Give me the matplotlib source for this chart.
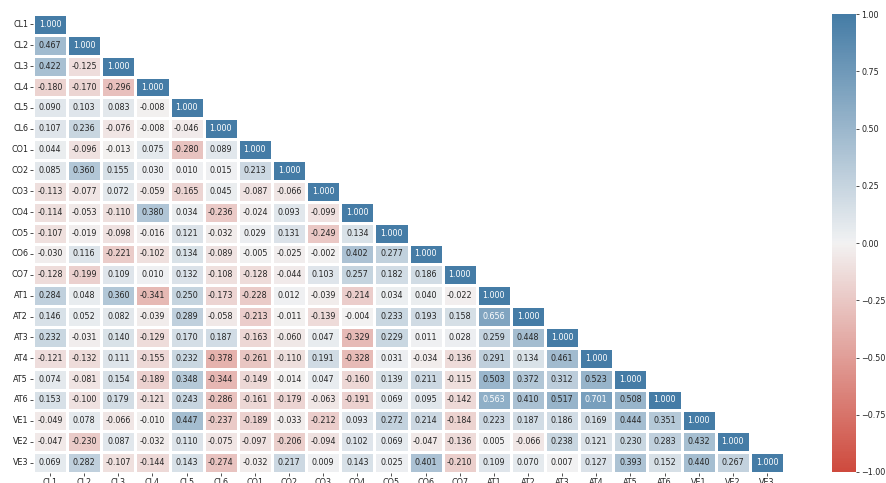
import numpy as np
import pandas as pd
import matplotlib
matplotlib.use("Agg")
import matplotlib.pyplot as plt
import seaborn as sns

labels = ["CL1", "CL2", "CL3", "CL4", "CL5", "CL6",
          "CO1", "CO2", "CO3", "CO4", "CO5", "CO6", "CO7",
          "AT1", "AT2", "AT3", "AT4", "AT5", "AT6",
          "VE1", "VE2", "VE3"]

# Lower-triangle correlation rows (including the diagonal)
row_CL1 = [1.000]
row_CL2 = [0.467, 1.000]
row_CL3 = [0.422, -0.125, 1.000]
row_CL4 = [-0.180, -0.170, -0.296, 1.000]
row_CL5 = [0.090, 0.103, 0.083, -0.008, 1.000]
row_CL6 = [0.107, 0.236, -0.076, -0.008, -0.046, 1.000]
row_CO1 = [0.044, -0.096, -0.013, 0.075, -0.280, 0.089, 1.000]
row_CO2 = [0.085, 0.360, 0.155, 0.030, 0.010, 0.015, 0.213, 1.000]
row_CO3 = [-0.113, -0.077, 0.072, -0.059, -0.165, 0.045, -0.087, -0.066, 1.000]
row_CO4 = [-0.114, -0.053, -0.110, 0.380, 0.034, -0.236, -0.024, 0.093, -0.099, 1.000]
row_CO5 = [-0.107, -0.019, -0.098, -0.016, 0.121, -0.032, 0.029, 0.131, -0.249, 0.134, 1.000]
row_CO6 = [-0.030, 0.116, -0.221, -0.102, 0.134, -0.089, -0.005, -0.025, -0.002, 0.402, 0.277, 1.000]
row_CO7 = [-0.128, -0.199, 0.109, 0.010, 0.132, -0.108, -0.128, -0.044, 0.103, 0.257, 0.182, 0.186, 1.000]
row_AT1 = [0.284, 0.048, 0.360, -0.341, 0.250, -0.173, -0.228, 0.012, -0.039, -0.214, 0.034, 0.040, -0.022, 1.000]
row_AT2 = [0.146, 0.052, 0.082, -0.039, 0.289, -0.058, -0.213, -0.011, -0.139, -0.004, 0.233, 0.193, 0.158, 0.656, 1.000]
row_AT3 = [0.232, -0.031, 0.140, -0.129, 0.170, 0.187, -0.163, -0.060, 0.047, -0.329, 0.229, 0.011, 0.028, 0.259, 0.448, 1.000]
row_AT4 = [-0.121, -0.132, 0.111, -0.155, 0.232, -0.378, -0.261, -0.110, 0.191, -0.328, 0.031, -0.034, -0.136, 0.291, 0.134, 0.461, 1.000]
row_AT5 = [0.074, -0.081, 0.154, -0.189, 0.348, -0.344, -0.149, -0.014, 0.047, -0.160, 0.139, 0.211, -0.115, 0.503, 0.372, 0.312, 0.523, 1.000]
row_AT6 = [0.153, -0.100, 0.179, -0.121, 0.243, -0.286, -0.161, -0.179, -0.063, -0.191, 0.069, 0.095, -0.142, 0.563, 0.410, 0.517, 0.701, 0.508, 1.000]
row_VE1 = [-0.049, 0.078, -0.066, -0.010, 0.447, -0.237, -0.189, -0.033, -0.212, 0.093, 0.272, 0.214, -0.184, 0.223, 0.187, 0.186, 0.169, 0.444, 0.351, 1.000]
row_VE2 = [-0.047, -0.230, 0.087, -0.032, 0.110, -0.075, -0.097, -0.206, -0.094, 0.102, 0.069, -0.047, -0.136, 0.005, -0.066, 0.238, 0.121, 0.230, 0.283, 0.432, 1.000]
row_VE3 = [0.069, 0.282, -0.107, -0.144, 0.143, -0.274, -0.032, 0.217, 0.009, 0.143, 0.025, 0.401, -0.210, 0.109, 0.070, 0.007, 0.127, 0.393, 0.152, 0.440, 0.267, 1.000]

rows = [row_CL1, row_CL2, row_CL3, row_CL4, row_CL5, row_CL6,
        row_CO1, row_CO2, row_CO3, row_CO4, row_CO5, row_CO6, row_CO7,
        row_AT1, row_AT2, row_AT3, row_AT4, row_AT5, row_AT6,
        row_VE1, row_VE2, row_VE3]

# Build the full symmetric matrix
n = len(labels)
corr = np.zeros((n, n))
for i, r in enumerate(rows):
    for j, v in enumerate(r):
        corr[i, j] = v
        corr[j, i] = v
corr = pd.DataFrame(corr, index=labels, columns=labels)

mask = np.triu(np.ones((n, n), dtype=bool), k=1)
cmap = sns.diverging_palette(15, 240, s=72, l=50, as_cmap=True)

fig = plt.figure(figsize=(8.87, 4.83), dpi=100)
ax = fig.add_axes([0.0372, 0.0207, 0.8467, 0.9503])
cax = fig.add_axes([0.938, 0.0228, 0.027, 0.948])

sns.heatmap(corr, mask=mask, cmap=cmap, vmin=-1, vmax=1, center=0,
            annot=True, fmt=".3f", annot_kws={"size": 5.8},
            linewidths=0.9, linecolor="white", square=False,
            ax=ax, cbar_ax=cax)

ax.tick_params(axis="both", labelsize=5.8, length=2.5, width=0.6, pad=1.0,
               colors="#333333", labelcolor="#222222")
ax.set_yticklabels(labels, rotation=0)
ax.set_xticklabels(labels, rotation=0)
cax.tick_params(labelsize=5.8, length=2.5, width=0.6, pad=1.5,
                colors="#333333", labelcolor="#222222")
cax.set_yticks([-1.0, -0.75, -0.5, -0.25, 0.0, 0.25, 0.5, 0.75, 1.0])
cax.set_yticklabels(["\u22121.00", "\u22120.75", "\u22120.50", "\u22120.25",
                     "0.00", "0.25", "0.50", "0.75", "1.00"])
for s in cax.spines.values():
    s.set_visible(False)

fig.savefig("out.png", dpi=100)
